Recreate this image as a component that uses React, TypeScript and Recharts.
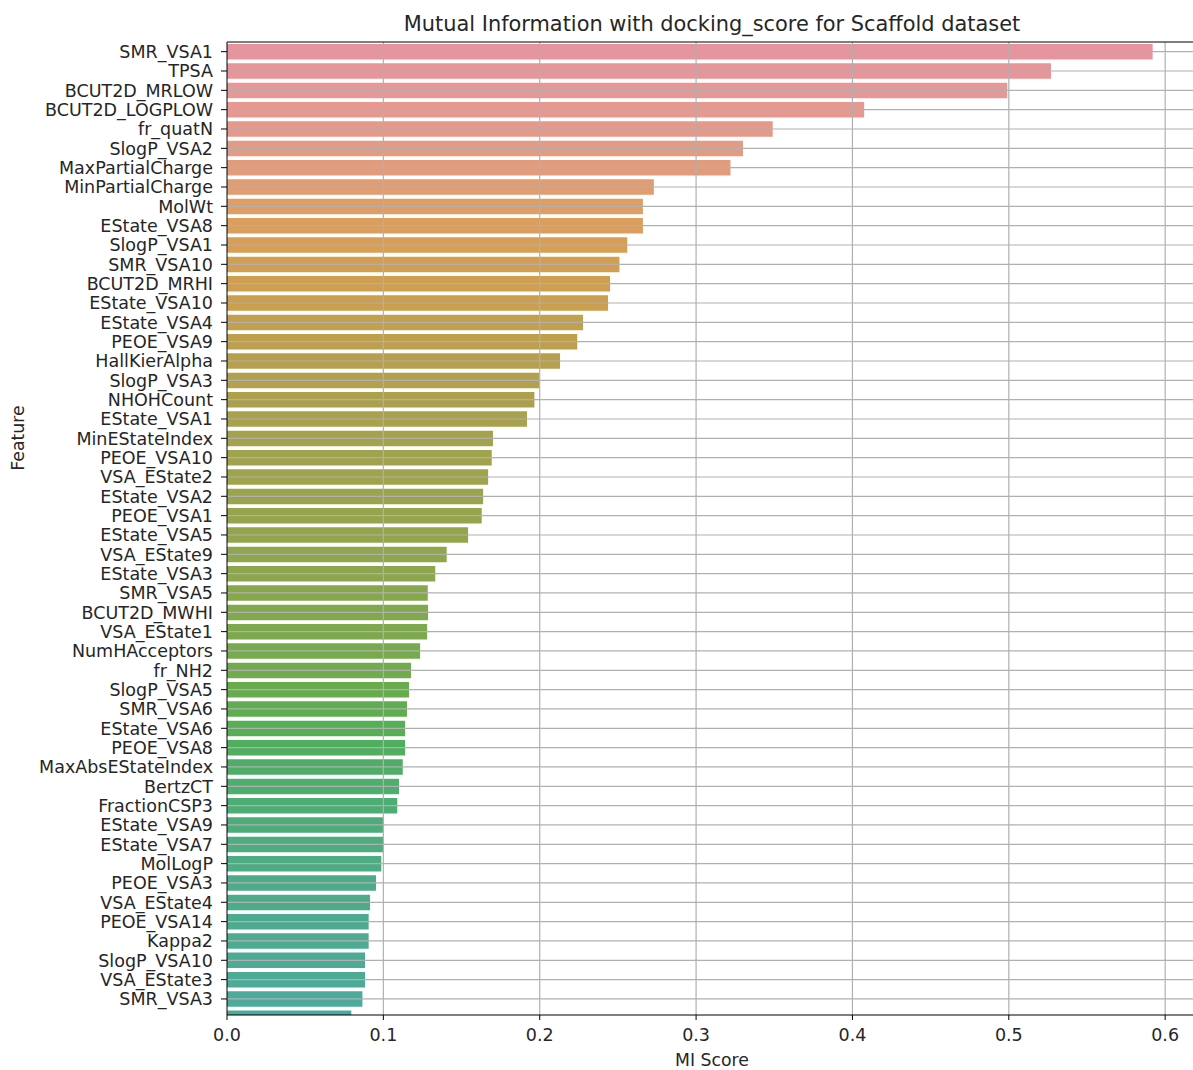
import { BarChart, Bar, XAxis, YAxis, Cell, ReferenceLine } from 'recharts';

const features = [
  'SMR_VSA1', 'TPSA', 'BCUT2D_MRLOW', 'BCUT2D_LOGPLOW', 'fr_quatN', 'SlogP_VSA2',
  'MaxPartialCharge', 'MinPartialCharge', 'MolWt', 'EState_VSA8', 'SlogP_VSA1', 'SMR_VSA10',
  'BCUT2D_MRHI', 'EState_VSA10', 'EState_VSA4', 'PEOE_VSA9', 'HallKierAlpha', 'SlogP_VSA3',
  'NHOHCount', 'EState_VSA1', 'MinEStateIndex', 'PEOE_VSA10', 'VSA_EState2', 'EState_VSA2',
  'PEOE_VSA1', 'EState_VSA5', 'VSA_EState9', 'EState_VSA3', 'SMR_VSA5', 'BCUT2D_MWHI',
  'VSA_EState1', 'NumHAcceptors', 'fr_NH2', 'SlogP_VSA5', 'SMR_VSA6', 'EState_VSA6',
  'PEOE_VSA8', 'MaxAbsEStateIndex', 'BertzCT', 'FractionCSP3', 'EState_VSA9', 'EState_VSA7',
  'MolLogP', 'PEOE_VSA3', 'VSA_EState4', 'PEOE_VSA14', 'Kappa2', 'SlogP_VSA10',
  'VSA_EState3', 'SMR_VSA3', '',
];

const miScores = [
  0.592, 0.527, 0.499, 0.4075, 0.349, 0.330,
  0.322, 0.273, 0.266, 0.266, 0.256, 0.251,
  0.245, 0.2437, 0.2277, 0.224, 0.213, 0.1996,
  0.1966, 0.1919, 0.1701, 0.1693, 0.167, 0.1638,
  0.1629, 0.1542, 0.1405, 0.1332, 0.1284, 0.1286,
  0.128, 0.1235, 0.1177, 0.1164, 0.1151, 0.1139,
  0.1139, 0.1124, 0.110, 0.1089, 0.0998, 0.0998,
  0.0987, 0.0953, 0.0915, 0.0906, 0.0906, 0.0883,
  0.0883, 0.0866, 0.0795,
];

const barColors = [
  '#E8949E', '#E8959A', '#E79796', '#E69891', '#E5998B', '#E49B83',
  '#E39C7B', '#E19D71', '#DE9E66', '#DB9E5D', '#D89E55', '#D49E51',
  '#CF9F4F', '#CB9F4E', '#C49F4D', '#BE9F4D', '#B89F4D', '#B2A04C',
  '#ADA04C', '#A9A14C', '#A5A24C', '#A1A24C', '#9EA34C', '#9AA44C',
  '#96A44C', '#93A54C', '#8FA64C', '#8BA64C', '#87A74C', '#82A84C',
  '#7DA94C', '#77AA4D', '#70AB4D', '#68AC4E', '#5EAE50', '#55AF55',
  '#50AF5F', '#4EAE67', '#4EAE6E', '#4DAD75', '#4DAD7A', '#4DAD7F',
  '#4DAC83', '#4DAC87', '#4CAC8A', '#4CAB8E', '#4CAB91', '#4CAB94',
  '#4CAB97', '#4CAA9A', '#4CAA9D',
];

const xTicks = [0, 0.1, 0.2, 0.3, 0.4, 0.5, 0.6];
// only the first 50 features are labelled, the last bar is cut by the axis
const yTicks = features.slice(0, 50).map((_, i) => i);

const rows = features.map((f, i) => ({ idx: i, feature: f, mi: miScores[i] }));

const FONT = '"DejaVu Sans", sans-serif';
const GRID = '#b0b0b0';

export default function App() {
  return (
    <div style={{ position: 'absolute', left: 0, top: 0, width: 1193, height: 1070, overflow: 'hidden', background: '#fff', fontFamily: FONT }}>
      <BarChart
        width={1200}
        height={1070}
        data={rows}
        layout="vertical"
        margin={{ top: 42, right: 2, bottom: 0, left: 0 }}
      >
        <XAxis
          type="number"
          dataKey="mi"
          domain={[0, 0.621]}
          allowDataOverflow
          ticks={xTicks}
          interval={0}
          tickFormatter={(v: number) => v.toFixed(1)}
          height={55}
          tickSize={5}
          tickMargin={9}
          axisLine={{ stroke: '#000', strokeWidth: 1 }}
          tickLine={{ stroke: '#000' }}
          tick={{ fontSize: 17.5, fill: '#262626', fontFamily: FONT }}
        />
        <YAxis
          type="number"
          dataKey="idx"
          domain={[-0.5, 49.83]}
          allowDataOverflow
          ticks={yTicks}
          interval={0}
          tickFormatter={(i: number) => features[i]}
          width={227}
          tickSize={6}
          tickMargin={8}
          axisLine={{ stroke: '#000', strokeWidth: 1 }}
          tickLine={{ stroke: '#000' }}
          tick={{ fontSize: 17.5, fill: '#262626', fontFamily: FONT }}
        />
        <Bar dataKey="mi" barSize={15.5} isAnimationActive={false}>
          {rows.map((r, i) => (
            <Cell key={`cell-${r.idx}`} fill={barColors[i]} />
          ))}
        </Bar>
        {xTicks.slice(1).map(t => (
          <ReferenceLine key={`vx-${t}`} x={t} stroke={GRID} strokeWidth={1.2} zIndex={450} />
        ))}
        {yTicks.map(t => (
          <ReferenceLine key={`hy-${t}`} y={t} stroke={GRID} strokeWidth={1.2} zIndex={450} />
        ))}
        <ReferenceLine y={-0.5} stroke="#000" strokeWidth={1} ifOverflow="visible" zIndex={460} />
      </BarChart>
      <svg width={1193} height={1070} style={{ position: 'absolute', left: 0, top: 0, pointerEvents: 'none' }}>
        <text x={712} y={31} textAnchor="middle" fontSize={20.9} fill="#262626" fontFamily={FONT}>
          Mutual Information with docking_score for Scaffold dataset
        </text>
        <text x={712} y={1066} textAnchor="middle" fontSize={17.3} fill="#262626" fontFamily={FONT}>
          MI Score
        </text>
        <text x={24} y={438} textAnchor="middle" fontSize={17.3} fill="#262626" fontFamily={FONT} transform="rotate(-90 24 438)">
          Feature
        </text>
      </svg>
    </div>
  );
}
